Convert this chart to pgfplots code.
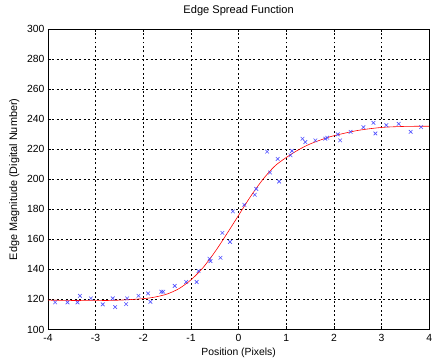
\documentclass[border=0pt]{standalone}
\usepackage{pgfplots}
\pgfplotsset{compat=1.18}
\usepackage{fontspec}
\setmainfont{Liberation Sans}
\definecolor{mkblue}{RGB}{80,80,255}
\begin{document}
\begin{tikzpicture}
\begin{axis}[
  name=a,
  scale only axis,
  width=384bp, height=302.5bp,
  xmin=-4, xmax=4, ymin=100, ymax=300,
  xtick={-4,-3,...,4}, ytick={100,120,...,300},
  tick align=inside,
  major tick length=3bp,
  grid=major,
  grid style={black, dash pattern=on 2bp off 2.5bp, line width=0.5bp},
  axis line style={black, line width=0.6bp},
  tick style={black, line width=0.5bp},
  font=\fontsize{10.5}{12}\selectfont,
  tick label style={font=\fontsize{10.5}{12}\selectfont},
  xticklabel style={yshift=-1.5bp},
  /pgf/number format/assume math mode=true,
  title={Edge Spread Function},
  title style={at={(axis description cs:0.5,1)}, anchor=center, yshift=12.5bp, font=\fontsize{11.2}{13}\selectfont},
  xlabel={Position (Pixels)},
  ylabel={Edge Magnitude (Digital Number)},
  xlabel style={at={(axis description cs:0.5,0)}, anchor=center, yshift=-23.5bp},
  ylabel style={at={(axis description cs:-0.0885,0.5)}, anchor=center, font=\fontsize{11}{13}\selectfont},
]
\addplot[red, line width=0.6bp, smooth] coordinates {
(-4.0,119.5) (-3.5,119.3) (-3.0,119.2) (-2.5,119.5) (-2.0,120.5) (-1.75,121.6)
(-1.5,123.6) (-1.25,127.2) (-1.0,133.0) (-0.75,141.0) (-0.5,151.5) (-0.25,163.5)
(0.0,176.0) (0.25,188.5) (0.5,199.5) (0.75,208.5) (1.0,214.5) (1.25,219.5)
(1.5,223.5) (1.75,226.5) (2.0,229.0) (2.5,232.5) (3.0,234.5) (3.5,235.2) (4.0,235.3)
};
\addplot[only marks, mark=x, mark size=2.6bp, mkblue, mark options={line width=0.6bp}] coordinates {
(-3.85,118.0) (-3.59,118.0) (-3.38,118.0) (-3.33,122.4) (-3.10,120.7) (-2.85,116.7)
(-2.64,120.7) (-2.59,114.9) (-2.36,116.9) (-2.34,120.7) (-2.10,122.4) (-1.90,124.0)
(-1.85,118.4) (-1.62,125.1) (-1.58,125.1) (-1.34,129.0) (-1.10,131.6) (-0.88,131.6)
(-0.84,138.9) (-0.61,147.1) (-0.59,145.5) (-0.38,147.7) (-0.34,164.3) (-0.18,158.3)
(-0.12,178.6) (0.12,183.0) (0.34,189.7) (0.37,193.6) (0.60,218.4) (0.66,204.5)
(0.82,213.5) (0.85,198.5) (1.09,216.0) (1.12,218.9) (1.34,227.0) (1.40,224.8)
(1.61,225.9) (1.82,227.0) (1.86,227.7) (2.08,229.9) (2.13,225.9) (2.35,231.6)
(2.62,234.7) (2.83,237.6) (2.87,230.5) (3.10,236.0) (3.36,236.9) (3.61,231.6)
(3.83,234.7)
};
\end{axis}
\pgfresetboundingbox
\path[use as bounding box] ([shift={(-48.3bp,-30.3bp)}]a.south west) rectangle ([shift={(3.8bp,29.3bp)}]a.north east);
\end{tikzpicture}
\end{document}
